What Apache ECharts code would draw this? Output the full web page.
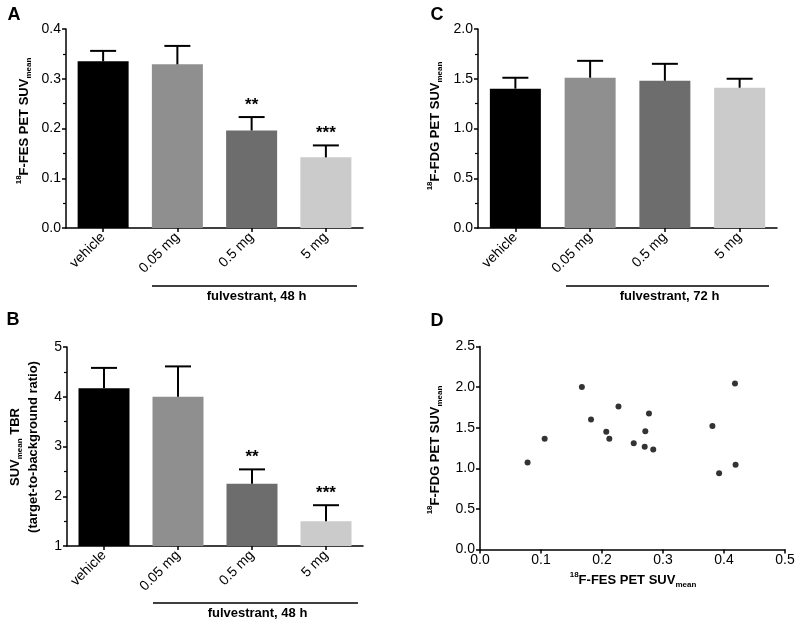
<!DOCTYPE html>
<html><head><meta charset="utf-8">
<script src="https://cdn.jsdelivr.net/npm/echarts@6/dist/echarts.min.js"></script>
<style>html,body{margin:0;padding:0;background:#fff}#c{width:800px;height:626px}</style>
</head><body><div id="c"></div>
<script>
const categories = ['vehicle', '0.05 mg', '0.5 mg', '5 mg'];
const barColors = ['#000000', '#8f8f8f', '#6d6d6d', '#cbcbcb'];
// Panel A: 18F-FES PET SUVmean, fulvestrant 48 h
const fesMean = [0.335, 0.329, 0.196, 0.142];
const fesErr = [0.021, 0.037, 0.027, 0.024];
const fesStars = ['', '', '**', '***'];
// Panel B: SUVmean TBR
const tbrMean = [4.17, 4.00, 2.25, 1.50];
const tbrErr = [0.41, 0.61, 0.29, 0.32];
const tbrStars = ['', '', '**', '***'];
// Panel C: 18F-FDG PET SUVmean, fulvestrant 72 h
const fdgMean = [1.40, 1.51, 1.48, 1.41];
const fdgErr = [0.11, 0.17, 0.17, 0.09];
const fdgStars = ['', '', '', ''];
// Panel D: scatter FES vs FDG
const scatterFes = [0.078, 0.106, 0.167, 0.182, 0.207, 0.212, 0.227, 0.252, 0.271, 0.270, 0.277, 0.284, 0.381, 0.392, 0.418, 0.419];
const scatterFdg = [1.07, 1.365, 2.00, 1.60, 1.45, 1.365, 1.76, 1.31, 1.455, 1.265, 1.675, 1.23, 1.52, 0.94, 2.045, 1.045];

const FONT = 'Liberation Sans, Arial, Helvetica, sans-serif';
const chart = echarts.init(document.getElementById('c'), null, {renderer: 'canvas'});

const axisLine = {show: true, lineStyle: {color: '#000', width: 1.5}};
const axisTick = {show: true, length: 4, lineStyle: {color: '#000', width: 1.5}};
const axisLabel = {color: '#000', fontSize: 14, fontFamily: FONT};

function catAxis(gi) {
  return {
    type: 'category', gridIndex: gi, data: categories,
    axisLine, axisTick: Object.assign({alignWithLabel: true}, axisTick),
    axisLabel: Object.assign({rotate: 45, margin: 7, interval: 0}, axisLabel),
    splitLine: {show: false}
  };
}
function valAxis(gi, min, max, interval, digits, minor) {
  return {
    type: 'value', gridIndex: gi, min, max, interval,
    axisLine, axisTick,
    minorTick: {show: minor, splitNumber: 2, length: 3, lineStyle: {color: '#000', width: 1.2}},
    axisLabel: Object.assign({margin: 5, formatter: v => v.toFixed(digits)}, axisLabel),
    splitLine: {show: false}, minorSplitLine: {show: false}
  };
}
function barSeries(gi, means) {
  return {
    type: 'bar', xAxisIndex: gi, yAxisIndex: gi, barWidth: 51,
    data: means.map((v, i) => ({value: v, itemStyle: {color: barColors[i]}})),
    z: 2, clip: true
  };
}
function errSeries(gi, means, errs, stars) {
  return {
    type: 'custom', xAxisIndex: gi, yAxisIndex: gi, z: 3, clip: false,
    data: means.map((m, i) => [i, m, m + errs[i]]),
    encode: {x: 0, y: [1, 2]},
    renderItem: function (params, api) {
      const i = params.dataIndex;
      const base = api.coord([api.value(0), api.value(1)]);
      const top = api.coord([api.value(0), api.value(2)]);
      const ch = [
        {type: 'line', shape: {x1: base[0], y1: base[1], x2: top[0], y2: top[1]}, style: {stroke: '#000', lineWidth: 2}},
        {type: 'line', shape: {x1: top[0] - 13, y1: top[1], x2: top[0] + 13, y2: top[1]}, style: {stroke: '#000', lineWidth: 2}}
      ];
      if (stars[i]) {
        ch.push({type: 'text', x: top[0], y: top[1] - 12,
          style: {text: stars[i], fill: '#000', font: 'bold 17px ' + FONT, align: 'center', verticalAlign: 'middle'}});
      }
      return {type: 'group', children: ch};
    }
  };
}

const rich = {
  m: {fontSize: 13, fontWeight: 'bold', fontFamily: FONT, fill: '#000', lineHeight: 18, verticalAlign: 'middle'},
  sup: {fontSize: 8, fontWeight: 'bold', fontFamily: FONT, fill: '#000', lineHeight: 18, verticalAlign: 'top'},
  sub: {fontSize: 8, fontWeight: 'bold', fontFamily: FONT, fill: '#000', lineHeight: 18, verticalAlign: 'bottom'}
};
function rtext(x, y, text, rot) {
  return {type: 'text', x, y, rotation: rot ? Math.PI / 2 : 0,
    style: {text, rich, align: 'center', verticalAlign: 'middle', fill: '#000', font: 'bold 13px ' + FONT}};
}
function letter(x, y, t) {
  return {type: 'text', x, y, style: {text: t, font: 'bold 18px ' + FONT, fill: '#000', align: 'center', verticalAlign: 'middle'}};
}
function bracket(x1, x2, y, label) {
  return [
    {type: 'line', shape: {x1, y1: y, x2, y2: y}, style: {stroke: '#000', lineWidth: 1.5}},
    {type: 'text', x: (x1 + x2) / 2 + 2, y: y + 10, style: {text: label, font: 'bold 13px ' + FONT, fill: '#000', align: 'center', verticalAlign: 'middle'}}
  ];
}

const option = {
  backgroundColor: '#fff',
  animation: false,
  grid: [
    {left: 66, top: 29, width: 297, height: 199},
    {left: 67, top: 347, width: 296, height: 199},
    {left: 478, top: 29, width: 299, height: 199},
    {left: 480, top: 346.5, width: 305, height: 203}
  ],
  xAxis: [
    catAxis(0), catAxis(1), catAxis(2),
    Object.assign(valAxis(3, 0, 0.5, 0.1, 1, false), {axisLabel: Object.assign({margin: 4, formatter: v => v.toFixed(1)}, axisLabel)})
  ],
  yAxis: [
    valAxis(0, 0, 0.4, 0.1, 1, true),
    valAxis(1, 1, 5, 1, 0, true),
    valAxis(2, 0, 2, 0.5, 1, true),
    valAxis(3, 0, 2.5, 0.5, 1, false)
  ],
  series: [
    barSeries(0, fesMean), errSeries(0, fesMean, fesErr, fesStars),
    barSeries(1, tbrMean), errSeries(1, tbrMean, tbrErr, tbrStars),
    barSeries(2, fdgMean), errSeries(2, fdgMean, fdgErr, fdgStars),
    {type: 'scatter', xAxisIndex: 3, yAxisIndex: 3, symbol: 'circle', symbolSize: 6,
      itemStyle: {color: '#000'}, data: scatterFes.map((x, i) => [x, scatterFdg[i]])}
  ],
  graphic: [
    letter(14, 15, 'A'), letter(13, 320, 'B'), letter(437, 15, 'C'), letter(437, 321, 'D'),
    rtext(24, 121, '{sup|18}{m|F-FES PET SUV}{sub|mean}', true),
    rtext(435, 126, '{sup|18}{m|F-FDG PET SUV}{sub|mean}', true),
    rtext(24, 447, '{m|SUV}{sub|mean}{m| TBR}\n{m|(target-to-background ratio)}', true),
    rtext(435, 450, '{sup|18}{m|F-FDG PET SUV}{sub|mean}', true),
    rtext(633, 580, '{sup|18}{m|F-FES PET SUV}{sub|mean}', false)
  ].concat(bracket(152, 357, 286, 'fulvestrant, 48 h'))
   .concat(bracket(153, 358, 603, 'fulvestrant, 48 h'))
   .concat(bracket(566, 769, 286, 'fulvestrant, 72 h'))
};
chart.setOption(option);
</script>
</body></html>
